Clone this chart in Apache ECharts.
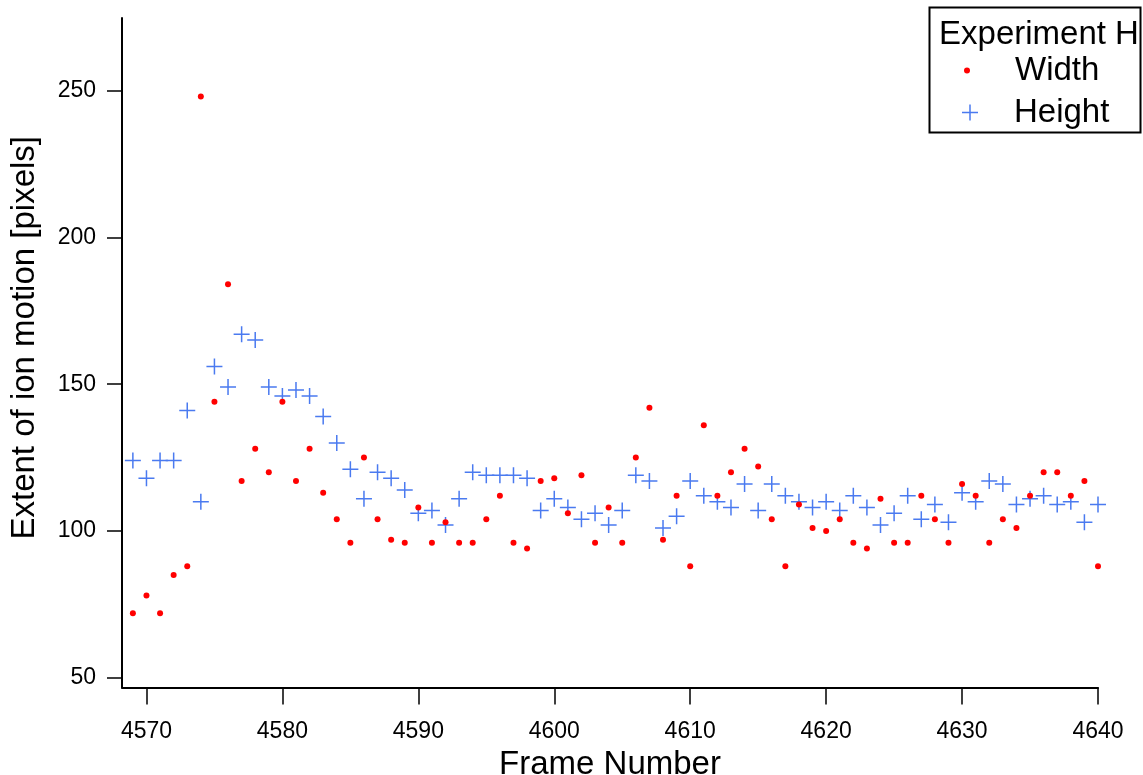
<!DOCTYPE html>
<html>
<head>
<meta charset="utf-8">
<script src="https://cdn.jsdelivr.net/npm/echarts@6/dist/echarts.min.js"></script>
<style>
html,body{margin:0;padding:0;background:#fff;}
#chart{width:1143px;height:775px;}
</style>
</head>
<body>
<div id="chart"></div>
<script>
const frames = [4569,4570,4571,4572,4573,4574,4575,4576,4577,4578,4579,4580,4581,4582,4583,4584,4585,4586,4587,4588,4589,4590,4591,4592,4593,4594,4595,4596,4597,4598,4599,4600,4601,4602,4603,4604,4605,4606,4607,4608,4609,4610,4611,4612,4613,4614,4615,4616,4617,4618,4619,4620,4621,4622,4623,4624,4625,4626,4627,4628,4629,4630,4631,4632,4633,4634,4635,4636,4637,4638,4639,4640];
const widthValues = [72,78,72,85,88,248,144,184,117,128,120,144,117,128,113,104,96,125,104,97,96,108,96,103,96,96,104,112,96,94,117,118,106,119,96,108,96,125,142,97,112,88,136,112,120,128,122,104,88,109,101,100,104,96,94,111,96,96,112,104,96,116,112,96,104,101,112,120,120,112,117,88];
const heightValues = [124,118,124,124,141,110,156,149,167,165,149,146,148,146,139,130,121,111,120,118,114,106,107,102,111,120,119,119,119,118,107,111,108,104,106,102,107,119,117,101,105,117,112,110,108,116,107,116,112,110,108,110,107,112,108,102,106,112,104,109,103,113,110,117,116,109,111,112,109,110,103,109];
const xTicks = [4570,4580,4590,4600,4610,4620,4630,4640];
const yTicks = [50,100,150,200,250];

const FONT = "'Liberation Sans', Arial, sans-serif";
const PLUS = 'path://M7.25,0H8.75V7.25H16V8.75H8.75V16H7.25V8.75H0V7.25H7.25Z';

const chart = echarts.init(document.getElementById('chart'), null, {renderer: 'canvas'});
const pair = (vals) => frames.map((f, i) => [f, vals[i]]);

chart.setOption({
  animation: false,
  backgroundColor: '#fff',
  textStyle: {fontFamily: FONT, color: '#000'},
  grid: {left: 122, right: 45, top: 18, bottom: 87.5, containLabel: false, outerBoundsMode: 'none'},
  title: {
    text: 'Experiment H',
    left: 1034, top: 13, textAlign: 'center',
    textStyle: {fontFamily: FONT, fontSize: 33, fontWeight: 'normal', color: '#000'}
  },
  graphic: [{
    type: 'rect', z: 0,
    shape: {x: 929.5, y: 7.5, width: 211, height: 125},
    style: {fill: '#fff', stroke: '#000', lineWidth: 2}
  }],
  legend: [{
    data: ['Width'], left: 959, top: 49, orient: 'vertical',
    itemWidth: 6, itemHeight: 6, icon: 'circle',
    itemStyle: {opacity: 1},
    textStyle: {fontFamily: FONT, fontSize: 33, color: '#000', padding: [0,0,0,40]},
    z: 10
  }, {
    data: ['Height'], left: 957, top: 91, orient: 'vertical',
    itemWidth: 16, itemHeight: 16, icon: PLUS,
    itemStyle: {opacity: 1},
    textStyle: {fontFamily: FONT, fontSize: 33, color: '#000', padding: [0,0,0,31]},
    z: 10
  }],
  xAxis: {
    type: 'value', min: 4568.2, max: 4640,
    name: 'Frame Number', nameLocation: 'middle', nameGap: 66,
    nameTextStyle: {fontFamily: FONT, fontSize: 33, color: '#000', align: 'center', verticalAlign: 'middle'},
    axisLine: {show: true, onZero: false, lineStyle: {color: '#000', width: 2}},
    axisTick: {show: true, inside: false, length: 17, customValues: xTicks, lineStyle: {color: '#000', width: 1.5}},
    axisLabel: {fontFamily: FONT, fontSize: 23, color: '#000', margin: 33, customValues: xTicks, formatter: (v) => String(v)},
    splitLine: {show: false}
  },
  yAxis: {
    type: 'value', min: 46.7, max: 274.7,
    name: 'Extent of ion motion [pixels]', nameLocation: 'middle', nameGap: 97, nameRotate: 90,
    nameTextStyle: {fontFamily: FONT, fontSize: 33, color: '#000', align: 'center', verticalAlign: 'middle', padding: [0,0,0,30]},
    axisLine: {show: true, onZero: false, lineStyle: {color: '#000', width: 2}},
    axisTick: {show: true, inside: false, length: 15, customValues: yTicks, lineStyle: {color: '#000', width: 1.5}},
    axisLabel: {fontFamily: FONT, fontSize: 23, color: '#000', margin: 26, customValues: yTicks, formatter: (v) => String(v)},
    splitLine: {show: false}
  },
  series: [{
    name: 'Width', type: 'scatter', data: pair(widthValues),
    symbol: 'circle', symbolSize: 6,
    itemStyle: {color: '#ff0000', opacity: 1}, z: 3
  }, {
    name: 'Height', type: 'scatter', data: pair(heightValues),
    symbol: PLUS, symbolSize: 16,
    itemStyle: {color: '#4a7af0', opacity: 1}, z: 2
  }]
});
</script>
</body>
</html>
